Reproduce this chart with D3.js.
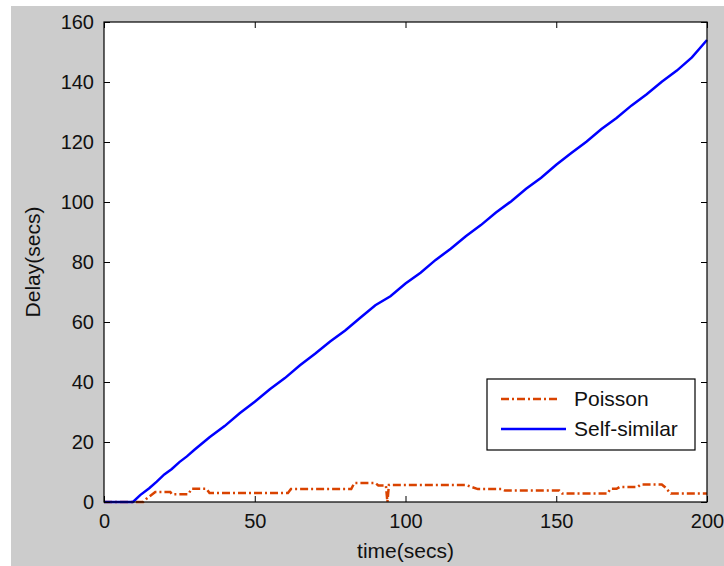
<!doctype html>
<html lang="en">
<head>
<meta charset="UTF-8">
<title>Delay</title>
<script src="https://cdn.jsdelivr.net/npm/d3@7"></script>
<style>
  html, body { margin: 0; padding: 0; background: #fff; }
  svg text { font-family: "Liberation Sans", Arial, sans-serif; fill: #111; }
</style>
</head>
<body>
<div class="canvas"></div>
<script>
  // data
  const xTicks = [0, 50, 100, 150, 200];
  const yTicks = [0, 20, 40, 60, 80, 100, 120, 140, 160];

  const selfTime = [0, 5, 9.6, 12, 15, 17.5, 20, 22.5, 25, 27.5, 30, 35, 40, 45, 50, 55, 60, 65, 70, 75, 80, 85,
    90, 95, 100, 105, 110, 115, 120, 125, 130, 135, 140, 145, 150, 155, 160, 165, 170, 175, 180, 185, 190, 195, 200];
  const selfDelay = [0, 0, 0, 2.3, 4.6, 6.8, 9.2, 11.0, 13.3, 15.2, 17.4, 21.6, 25.3, 29.6, 33.4, 37.6, 41.3, 45.6, 49.4, 53.5, 57.2, 61.4,
    65.6, 68.6, 72.8, 76.4, 80.7, 84.4, 88.6, 92.3, 96.5, 100.2, 104.4, 108.1, 112.4, 116.3, 120.1, 124.3, 128.0, 132.2, 135.9, 140.1, 143.8, 148.2, 154.0];

  const poissonTime = [0, 13, 14, 15.5, 17, 22, 22.5, 28, 29, 34, 35, 49, 50, 61, 62, 82, 83, 90, 91, 93.5, 94, 94.5, 95.5,
    120, 124, 132, 133, 151, 152, 167, 168, 170, 171, 177, 178, 185, 186, 188, 200];
  const poissonDelay = [0, 0, 1, 2.2, 3.3, 3.3, 2.6, 2.6, 4.4, 4.4, 3.0, 3.0, 3.0, 3.0, 4.3, 4.3, 6.3, 6.3, 5.5, 5.5, 0, 5.7, 5.7,
    5.7, 4.3, 4.3, 3.8, 3.8, 2.8, 2.8, 4.4, 4.4, 5.0, 5.0, 5.8, 5.8, 5.0, 2.8, 2.8];

  const seriesNames = ['Poisson', 'Self-similar'];

  const W = 724, H = 566;
  const [mt, mr, mb, ml] = [22, 17, 64, 104];
  const gw = W - ml - mr;
  const gh = H - mt - mb;

  const svg = d3.select('.canvas').append('svg')
    .attr('width', W)
    .attr('height', H);

  // grey figure background
  svg.append('rect')
    .attr('x', 11).attr('y', 6)
    .attr('width', W - 11).attr('height', H - 6)
    .attr('fill', '#cccccc');

  const g = svg.append('g')
    .attr('transform', `translate(${ml}, ${mt})`);

  g.append('rect')
    .attr('width', gw).attr('height', gh)
    .attr('fill', '#fff');

  const x = d3.scaleLinear().domain([0, 200]).range([0, gw]);
  const y = d3.scaleLinear().domain([0, 160]).range([gh, 0]);

  const line = d3.line()
    .x(d => x(d[0]))
    .y(d => y(d[1]));

  const poisson = poissonTime.map((t, i) => [t, poissonDelay[i]]);
  const selfSim = selfTime.map((t, i) => [t, selfDelay[i]]);

  g.append('path')
    .datum(poisson)
    .attr('d', line)
    .attr('fill', 'none')
    .attr('stroke', '#d94300')
    .attr('stroke-width', 2.5)
    .attr('stroke-dasharray', '8,3,2,3');

  g.append('path')
    .datum(selfSim)
    .attr('d', line)
    .attr('fill', 'none')
    .attr('stroke', '#0000ff')
    .attr('stroke-width', 2.5);

  // axes, ticks inside on every side
  const fs = '20px';
  const xAxisB = g.append('g').attr('transform', `translate(0, ${gh})`)
    .call(d3.axisBottom(x).tickValues(xTicks).tickSizeInner(-6).tickSizeOuter(0).tickPadding(12));
  const xAxisT = g.append('g')
    .call(d3.axisTop(x).tickValues(xTicks).tickSizeInner(-6).tickSizeOuter(0).tickFormat(''));
  const yAxisL = g.append('g')
    .call(d3.axisLeft(y).tickValues(yTicks).tickSizeInner(-6).tickSizeOuter(0).tickPadding(10));
  const yAxisR = g.append('g').attr('transform', `translate(${gw}, 0)`)
    .call(d3.axisRight(y).tickValues(yTicks).tickSizeInner(-6).tickSizeOuter(0).tickFormat(''));

  [xAxisB, xAxisT, yAxisL, yAxisR].forEach(a => {
    a.select('.domain').remove();
    a.selectAll('line').attr('stroke', '#000');
    a.selectAll('text').style('font-size', fs).attr('font-family', null);
  });

  g.append('rect')
    .attr('width', gw).attr('height', gh)
    .attr('fill', 'none')
    .attr('stroke', '#000')
    .attr('stroke-width', 1.2);

  // axis titles
  g.append('text')
    .attr('x', gw / 2).attr('y', gh + 56)
    .attr('text-anchor', 'middle')
    .style('font-size', '21px')
    .text('time(secs)');

  g.append('text')
    .attr('transform', `translate(${33 - ml + 7}, ${gh / 2}) rotate(-90)`)
    .attr('text-anchor', 'middle')
    .style('font-size', '21px')
    .text('Delay(secs)');

  // legend
  const leg = svg.append('g').attr('transform', 'translate(487, 379)');
  leg.append('rect')
    .attr('width', 208).attr('height', 71)
    .attr('fill', '#fff')
    .attr('stroke', '#000')
    .attr('stroke-width', 1.2);

  const legStyles = [
    { color: '#d94300', dash: '8,3,2,3', len: 57 },
    { color: '#0000ff', dash: null, len: 65 }
  ];
  seriesNames.forEach((name, i) => {
    const ry = 20 + i * 30;
    leg.append('line')
      .attr('x1', 14).attr('x2', 14 + legStyles[i].len)
      .attr('y1', ry).attr('y2', ry)
      .attr('stroke', legStyles[i].color)
      .attr('stroke-width', 2.5)
      .attr('stroke-dasharray', legStyles[i].dash);
    leg.append('text')
      .attr('x', 87).attr('y', ry + 7)
      .style('font-size', '21px')
      .text(name);
  });
</script>
</body>
</html>
